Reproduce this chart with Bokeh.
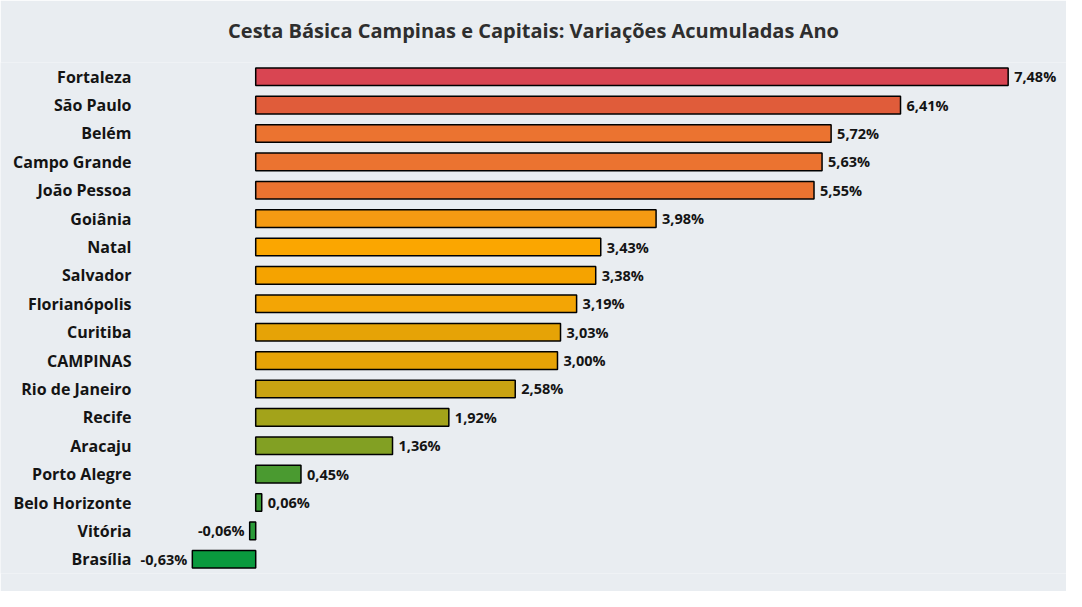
from bokeh.plotting import figure
from bokeh.models import ColumnDataSource, FactorRange, Range1d
from bokeh.core.properties import value
from bokeh.embed import file_html
from bokeh.resources import INLINE

cities = ["Fortaleza", "São Paulo", "Belém", "Campo Grande", "João Pessoa", "Goiânia",
          "Natal", "Salvador", "Florianópolis", "Curitiba", "CAMPINAS", "Rio de Janeiro",
          "Recife", "Aracaju", "Porto Alegre", "Belo Horizonte", "Vitória", "Brasília"]
values = [7.48, 6.41, 5.72, 5.63, 5.55, 3.98, 3.43, 3.38, 3.19, 3.03, 3.00, 2.58,
          1.92, 1.36, 0.45, 0.06, -0.06, -0.63]
colors = ["#d94552", "#e05c3a", "#eb7330", "#eb7330", "#eb7330", "#f59a12",
          "#fba600", "#f5a300", "#f3a505", "#e6a306", "#e6a306", "#c9a312",
          "#a3a31a", "#82a023", "#4a9a30", "#3a9a33", "#2a9a38", "#0a9a3e"]
title_text = "Cesta Básica Campinas e Capitais: Variações Acumuladas Ano"

labels = [f"{v:.2f}".replace(".", ",") + "%" for v in values]
pos = [v >= 0 for v in values]

FONT = "Open Sans"
LABEL_X = -1.235  # data x where category labels end

src_pos = ColumnDataSource(dict(
    city=[c for c, p in zip(cities, pos) if p],
    val=[v for v, p in zip(values, pos) if p],
    lab=[l for l, p in zip(labels, pos) if p]))
src_neg = ColumnDataSource(dict(
    city=[c for c, p in zip(cities, pos) if not p],
    val=[v for v, p in zip(values, pos) if not p],
    lab=[l for l, p in zip(labels, pos) if not p]))
src = ColumnDataSource(dict(city=cities, val=values, col=colors,
                            lx=[LABEL_X] * len(cities)))

p = figure(width=1066, height=591, output_backend="svg", toolbar_location=None,
           y_range=FactorRange(*reversed(cities), range_padding=0),
           x_range=Range1d(-2.537, 8.06),
           min_border_left=0, min_border_right=0, min_border_bottom=18,
           min_border_top=15, title=title_text)

bg = "#e9edf1"
p.background_fill_color = bg
p.border_fill_color = bg
p.outline_line_color = None
p.xaxis.visible = False
p.yaxis.visible = False
p.xgrid.visible = False
p.ygrid.visible = False

p.title.align = "center"
p.title.vertical_align = "top"
p.title.text_font = FONT
p.title.text_font_size = "20px"
p.title.text_font_style = "bold"
p.title.text_color = "#2e2e2e"
p.title.standoff = 33

p.hbar(y="city", right="val", left=0, height=0.62, source=src,
       fill_color="col", line_color="#000000", line_width=1.5)

p.text(x="lx", y="city", text="city", source=src, text_align="right",
       text_baseline="middle", text_font=value(FONT), text_font_size="16px",
       text_font_style="bold", text_color="#141414")

p.text(x="val", y="city", text="lab", source=src_pos, text_align="left",
       text_baseline="middle", x_offset=6, text_font=value(FONT),
       text_font_size="14.5px", text_font_style="bold", text_color="#141414")
p.text(x="val", y="city", text="lab", source=src_neg, text_align="right",
       text_baseline="middle", x_offset=-5, text_font=value(FONT),
       text_font_size="14.5px", text_font_style="bold", text_color="#141414")

open("out.html", "w").write(file_html(p, INLINE))
